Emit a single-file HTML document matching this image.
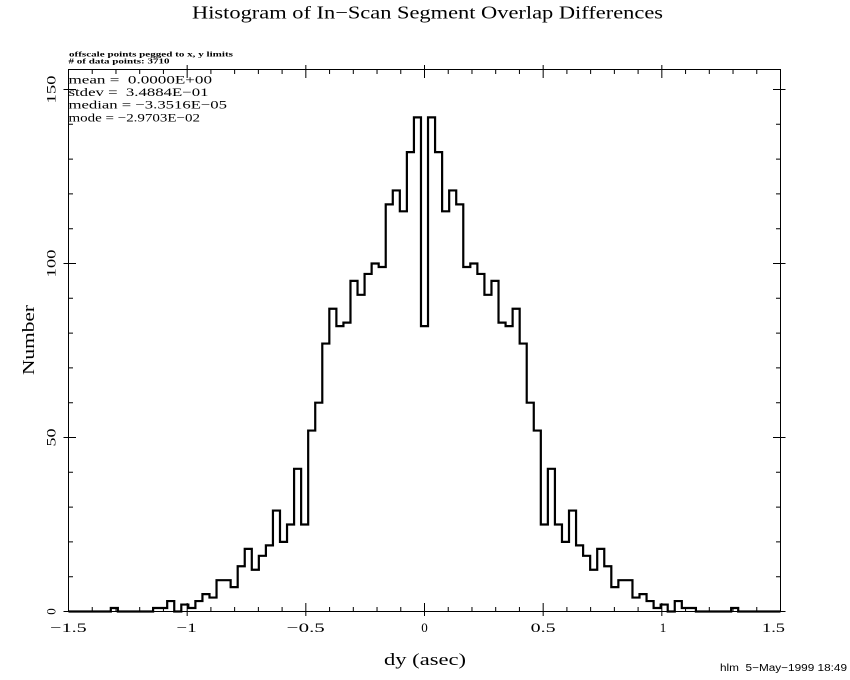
<!DOCTYPE html>
<html>
<head>
<meta charset="utf-8">
<style>
html,body{margin:0;padding:0;background:#fff;}
svg{display:block;}
text{font-family:"Liberation Serif",serif;fill:#000;white-space:pre;}
</style>
</head>
<body>
<svg width="850" height="680" viewBox="0 0 850 680" xmlns="http://www.w3.org/2000/svg">
<rect width="850" height="680" fill="#fff"/>

<!-- title -->
<text x="192" y="18.5" font-size="18" textLength="471" lengthAdjust="spacingAndGlyphs">Histogram of In−Scan Segment Overlap Differences</text>

<!-- small header notes -->
<text x="69" y="56.5" font-size="7.5" font-weight="bold" textLength="164" lengthAdjust="spacingAndGlyphs">offscale points pegged to x, y limits</text>
<text x="68.5" y="63.5" font-size="7.5" font-weight="bold" textLength="101" lengthAdjust="spacingAndGlyphs"># of data points: 3710</text>

<!-- axes box -->
<rect x="68.5" y="69.5" width="712" height="542" fill="none" stroke="#000" stroke-width="1"/>

<!-- ticks -->
<path fill="none" stroke="#000" stroke-width="1" d="
M92.23 611.5V607M115.97 611.5V607M139.70 611.5V607M163.43 611.5V607
M210.90 611.5V607M234.63 611.5V607M258.37 611.5V607M282.10 611.5V607
M329.57 611.5V607M353.30 611.5V607M377.03 611.5V607M400.77 611.5V607
M448.23 611.5V607M471.97 611.5V607M495.70 611.5V607M519.43 611.5V607
M566.90 611.5V607M590.63 611.5V607M614.37 611.5V607M638.10 611.5V607
M685.57 611.5V607M709.30 611.5V607M733.03 611.5V607M756.77 611.5V607
M92.23 69.5V74M115.97 69.5V74M139.70 69.5V74M163.43 69.5V74
M210.90 69.5V74M234.63 69.5V74M258.37 69.5V74M282.10 69.5V74
M329.57 69.5V74M353.30 69.5V74M377.03 69.5V74M400.77 69.5V74
M448.23 69.5V74M471.97 69.5V74M495.70 69.5V74M519.43 69.5V74
M566.90 69.5V74M590.63 69.5V74M614.37 69.5V74M638.10 69.5V74
M685.57 69.5V74M709.30 69.5V74M733.03 69.5V74M756.77 69.5V74
M187.17 616V603M305.83 616V603M424.5 616V603M543.17 616V603M661.83 616V603
M187.17 65V78M305.83 65V78M424.5 65V78M543.17 65V78M661.83 65V78
M68.5 576.7H73M68.5 541.9H73M68.5 507.1H73M68.5 472.3H73
M68.5 402.7H73M68.5 367.9H73M68.5 333.1H73M68.5 298.3H73
M68.5 228.7H73M68.5 193.9H73M68.5 159.1H73M68.5 124.3H73
M780.5 576.7H776M780.5 541.9H776M780.5 507.1H776M780.5 472.3H776
M780.5 402.7H776M780.5 367.9H776M780.5 333.1H776M780.5 298.3H776
M780.5 228.7H776M780.5 193.9H776M780.5 159.1H776M780.5 124.3H776
M63.5 611.5H76M63.5 437.5H76M63.5 263.5H76M63.5 89.5H76
M785.5 611.5H773M785.5 437.5H773M785.5 263.5H773M785.5 89.5H773"/>

<!-- histogram -->
<path fill="none" stroke="#000" stroke-width="2.2" stroke-linejoin="miter" d="
M68.5 611.5H110.80V608.02H117.85V611.5H153.09V608.02H167.19
V601.06H174.24V611.5H181.29V604.54H188.34V608.02H195.39V601.06H202.44
V594.10H209.49V597.58H216.54V580.18H230.64V587.14H237.69V566.26H244.74
V548.86H251.79V569.74H258.84V555.82H265.89V545.38H272.94V510.58H279.99
V541.90H287.03V524.50H294.08V468.82H301.13V524.50H308.18V430.54H315.23
V402.70H322.28V343.54H329.33V308.74H336.38V326.14H343.43V322.66H350.48
V280.90H357.53V294.82H364.58V273.94H371.63V263.50H378.68V266.98H385.73
V204.34H392.78V190.42H399.83V211.30H406.88V152.14H413.93V117.34H420.98
V326.14H428.02V117.34H435.07V152.14H442.12V211.30H449.17V190.42H456.22
V204.34H463.27V266.98H470.32V263.50H477.37V273.94H484.42V294.82H491.47
V280.90H498.52V322.66H505.57V326.14H512.62V308.74H519.67V343.54H526.72
V402.70H533.77V430.54H540.82V524.50H547.87V468.82H554.92V524.50H561.97
V541.90H569.01V510.58H576.06V545.38H583.11V555.82H590.16V569.74H597.21
V548.86H604.26V566.26H611.31V587.14H618.36V580.18H632.46V597.58H639.51
V594.10H646.56V601.06H653.61V608.02H660.66V604.54H667.71V611.5H674.76
V601.06H681.81V608.02H695.91V611.5H731.15V608.02H738.20V611.5H780.5"/>

<!-- stats -->
<text x="68.5" y="83.5" font-size="12" textLength="143.5" lengthAdjust="spacingAndGlyphs">mean =  0.0000E+00</text>
<text x="68.5" y="96" font-size="12" textLength="140" lengthAdjust="spacingAndGlyphs">stdev =  3.4884E−01</text>
<text x="68.5" y="108.5" font-size="12" textLength="158.5" lengthAdjust="spacingAndGlyphs">median = −3.3516E−05</text>
<text x="68.5" y="121.5" font-size="12" textLength="131.5" lengthAdjust="spacingAndGlyphs">mode = −2.9703E−02</text>

<!-- x tick labels -->
<text x="68.5" y="632" font-size="13" text-anchor="middle" textLength="36.5" lengthAdjust="spacingAndGlyphs">−1.5</text>
<text x="186.7" y="632" font-size="13" text-anchor="middle" textLength="20" lengthAdjust="spacingAndGlyphs">−1</text>
<text x="305.8" y="632" font-size="13" text-anchor="middle" textLength="38" lengthAdjust="spacingAndGlyphs">−0.5</text>
<text x="424.5" y="632" font-size="13" text-anchor="middle">0</text>
<text x="543.2" y="632" font-size="13" text-anchor="middle" textLength="25" lengthAdjust="spacingAndGlyphs">0.5</text>
<text x="663" y="632" font-size="13" text-anchor="middle">1</text>
<text x="773.5" y="632" font-size="13" text-anchor="middle" textLength="23" lengthAdjust="spacingAndGlyphs">1.5</text>

<!-- y tick labels (rotated) -->
<text transform="translate(55.5,611.5) rotate(-90)" font-size="13" text-anchor="middle">0</text>
<text transform="translate(55.5,437.5) rotate(-90)" font-size="13" text-anchor="middle" textLength="18" lengthAdjust="spacingAndGlyphs">50</text>
<text transform="translate(55.5,263.5) rotate(-90)" font-size="13" text-anchor="middle" textLength="28" lengthAdjust="spacingAndGlyphs">100</text>
<text transform="translate(55.5,89.5) rotate(-90)" font-size="13" text-anchor="middle" textLength="28" lengthAdjust="spacingAndGlyphs">150</text>

<!-- axis labels -->
<text x="425" y="665" font-size="17" text-anchor="middle" textLength="82" lengthAdjust="spacingAndGlyphs">dy (asec)</text>
<text transform="translate(34,340) rotate(-90)" font-size="17" text-anchor="middle" textLength="70" lengthAdjust="spacingAndGlyphs">Number</text>

<!-- footer -->
<text x="720" y="671" font-size="10" style="font-family:'Liberation Sans',sans-serif" textLength="127" lengthAdjust="spacingAndGlyphs">hlm  5−May−1999 18:49</text>
</svg>
</body>
</html>
